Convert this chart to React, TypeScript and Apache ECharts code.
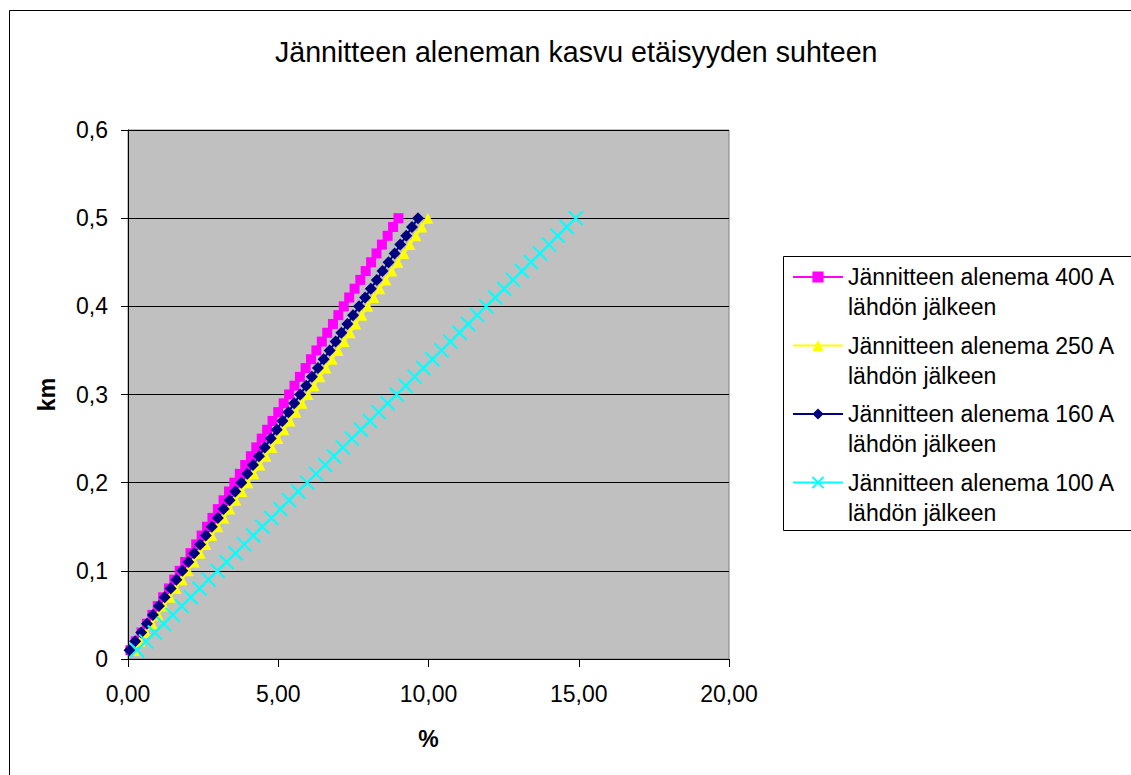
import React, { useEffect, useRef } from "react";
import * as echarts from "echarts";

// Distance from the feeder (km)
const distanceKm = [
  0.01, 0.02, 0.03, 0.04, 0.05, 0.06, 0.07, 0.08, 0.09, 0.1,
  0.11, 0.12, 0.13, 0.14, 0.15, 0.16, 0.17, 0.18, 0.19, 0.2,
  0.21, 0.22, 0.23, 0.24, 0.25, 0.26, 0.27, 0.28, 0.29, 0.3,
  0.31, 0.32, 0.33, 0.34, 0.35, 0.36, 0.37, 0.38, 0.39, 0.4,
  0.41, 0.42, 0.43, 0.44, 0.45, 0.46, 0.47, 0.48, 0.49, 0.5,
];

// Voltage drop (%) after each feeder size
const drop400 = [
  0.08, 0.26, 0.45, 0.63, 0.81, 0.99, 1.17, 1.36, 1.54, 1.72,
  1.9, 2.08, 2.27, 2.45, 2.63, 2.81, 2.99, 3.18, 3.36, 3.54,
  3.72, 3.9, 4.09, 4.27, 4.45, 4.63, 4.81, 5.0, 5.18, 5.36,
  5.54, 5.72, 5.91, 6.09, 6.27, 6.45, 6.63, 6.82, 7.0, 7.18,
  7.36, 7.54, 7.73, 7.91, 8.09, 8.27, 8.45, 8.64, 8.82, 9.0,
];
const drop250 = [
  0.2, 0.4, 0.6, 0.8, 1.0, 1.2, 1.4, 1.6, 1.8, 2.0,
  2.2, 2.4, 2.59, 2.79, 2.99, 3.19, 3.39, 3.59, 3.79, 3.99,
  4.19, 4.39, 4.59, 4.79, 4.99, 5.19, 5.39, 5.59, 5.79, 5.99,
  6.19, 6.39, 6.59, 6.79, 6.99, 7.19, 7.39, 7.58, 7.78, 7.98,
  8.18, 8.38, 8.58, 8.78, 8.98, 9.18, 9.38, 9.58, 9.78, 9.98,
];
const drop160 = [
  0.05, 0.24, 0.44, 0.63, 0.83, 1.03, 1.22, 1.42, 1.61, 1.81,
  2.01, 2.2, 2.4, 2.59, 2.79, 2.99, 3.18, 3.38, 3.57, 3.77,
  3.97, 4.16, 4.36, 4.55, 4.75, 4.95, 5.14, 5.34, 5.53, 5.73,
  5.93, 6.12, 6.32, 6.51, 6.71, 6.91, 7.1, 7.3, 7.49, 7.69,
  7.89, 8.08, 8.28, 8.47, 8.67, 8.87, 9.06, 9.26, 9.45, 9.65,
];
const drop100 = [
  0.3, 0.6, 0.89, 1.19, 1.49, 1.79, 2.09, 2.38, 2.68, 2.98,
  3.28, 3.58, 3.87, 4.17, 4.47, 4.77, 5.07, 5.36, 5.66, 5.96,
  6.26, 6.56, 6.85, 7.15, 7.45, 7.75, 8.05, 8.34, 8.64, 8.94,
  9.24, 9.54, 9.83, 10.13, 10.43, 10.73, 11.03, 11.32, 11.62, 11.92,
  12.22, 12.52, 12.81, 13.11, 13.41, 13.71, 14.01, 14.3, 14.6, 14.9,
];

const seriesNames = [
  "Jännitteen alenema 400 A\nlähdön jälkeen",
  "Jännitteen alenema 250 A\nlähdön jälkeen",
  "Jännitteen alenema 160 A\nlähdön jälkeen",
  "Jännitteen alenema 100 A\nlähdön jälkeen",
];

const titleText = "Jännitteen aleneman kasvu etäisyyden suhteen";
const xAxisTitle = "%";
const yAxisTitle = "km";

const FONT = "'Liberation Sans', Arial, sans-serif";

const pairs = (xs: number[]) => xs.map((x, i) => [x, distanceKm[i]]);

export default function App() {
  const ref = useRef<HTMLDivElement>(null);

  useEffect(() => {
    if (!ref.current) return;
    const chart = echarts.init(ref.current, undefined, { renderer: "svg" });

    const lineSeries = (
      name: string,
      values: number[],
      color: string,
      symbol: string,
      symbolSize: number,
      extraItem: Record<string, unknown> = {}
    ) => ({
      type: "line",
      name,
      data: pairs(values),
      symbol,
      symbolSize,
      showAllSymbol: true,
      lineStyle: { color, width: 2 },
      itemStyle: { color, ...extraItem },
      emphasis: { disabled: true },
      z: 3,
    });

    chart.setOption({
      animation: false,
      backgroundColor: "#ffffff",
      textStyle: { fontFamily: FONT },
      title: {
        text: titleText,
        left: 275,
        top: 37,
        padding: 0,
        textStyle: { fontFamily: FONT, fontSize: 28.6, fontWeight: "normal", color: "#000" },
      },
      grid: {
        left: 128,
        top: 130,
        width: 601,
        height: 529,
        show: true,
        backgroundColor: "#C0C0C0",
        borderColor: "#808080",
        borderWidth: 1,
        containLabel: false,
      },
      xAxis: {
        type: "value",
        min: 0,
        max: 20,
        interval: 5,
        name: xAxisTitle,
        nameLocation: "middle",
        nameGap: 68,
        nameTextStyle: { fontFamily: FONT, fontSize: 23, fontWeight: "bold", color: "#000" },
        axisLine: { show: true, onZero: false, lineStyle: { color: "#000", width: 1 } },
        axisTick: { show: true, inside: false, length: 8, lineStyle: { color: "#000" } },
        axisLabel: {
          margin: 23,
          fontFamily: FONT,
          fontSize: 23,
          color: "#000",
          formatter: (v: number) => v.toFixed(2).replace(".", ","),
        },
        splitLine: { show: false },
      },
      yAxis: {
        type: "value",
        min: 0,
        max: 0.6,
        interval: 0.1,
        name: yAxisTitle,
        nameLocation: "middle",
        nameGap: 70,
        nameRotate: 90,
        nameTextStyle: { fontFamily: FONT, fontSize: 23, fontWeight: "bold", color: "#000" },
        axisLine: { show: true, onZero: false, lineStyle: { color: "#000", width: 1 } },
        axisTick: { show: true, inside: false, length: 7, lineStyle: { color: "#000" } },
        axisLabel: {
          margin: 20,
          fontFamily: FONT,
          fontSize: 23,
          color: "#000",
          formatter: (v: number) => (v === 0 ? "0" : v.toFixed(1).replace(".", ",")),
        },
        splitLine: { show: true, lineStyle: { color: "#000", width: 1 } },
      },
      legend: {
        orient: "vertical",
        left: 792,
        top: 232,
        padding: 0,
        itemGap: -21.5,
        itemWidth: 50,
        itemHeight: 14,
        selectedMode: false,
        data: seriesNames,
        // a leading empty line keeps the key symbol level with the first text line
        formatter: (name: string) => "\n" + name,
        textStyle: {
          fontFamily: FONT,
          fontSize: 23,
          color: "#000",
          lineHeight: 30,
        },
      },
      graphic: [
        {
          type: "rect",
          shape: { x: 9.5, y: 10.5, width: 1300, height: 900 },
          style: { fill: "none", stroke: "#000", lineWidth: 1 },
          silent: true,
          z: -10,
        },
        {
          type: "rect",
          shape: { x: 783.5, y: 256.5, width: 500, height: 274 },
          style: { fill: "#fff", stroke: "#000", lineWidth: 1 },
          silent: true,
          z: -5,
        },
      ],
      series: [
        lineSeries(seriesNames[0], drop400, "#FF00FF", "rect", 10),
        lineSeries(seriesNames[1], drop250, "#FFFF00", "triangle", 11),
        lineSeries(seriesNames[2], drop160, "#000080", "diamond", 12),
        lineSeries(seriesNames[3], drop100, "#00FFFF", "path://M0,0L10,10M10,0L0,10", 14, {
          borderColor: "#00FFFF",
          borderWidth: 2,
        }),
      ],
    });

    return () => chart.dispose();
  }, []);

  return (
    <div
      ref={ref}
      style={{ position: "fixed", left: 0, top: 0, width: 1131, height: 775, background: "#fff" }}
    />
  );
}
